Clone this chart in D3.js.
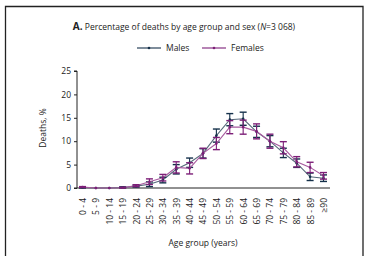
<!DOCTYPE html>
<html>
<head>
<meta charset="utf-8">
<script src="https://cdn.jsdelivr.net/npm/d3@7"></script>
<style>
  body { margin: 0; background: #fff; }
  text { font-family: "Open Sans", "Noto Sans", sans-serif; fill: #222; }
</style>
</head>
<body>
<script>
const w = 368;
const h = 256;

const ageGroups = ["0 - 4", "5 - 9", "10 - 14", "15 - 19", "20 - 24", "25 - 29", "30 - 34", "35 - 39",
  "40 - 44", "45 - 49", "50 - 54", "55 - 59", "60 - 64", "65 - 69", "70 - 74", "75 - 79",
  "80 - 84", "85 - 89", "\u226590"];
const males = [0.1, 0, 0, 0.1, 0.4, 0.8, 1.7, 4.0, 5.4, 7.4, 11.2, 14.6, 14.8, 12.0, 10.0, 7.5, 5.3, 2.4, 2.1];
const malesErr = [0.1, 0, 0, 0.15, 0.2, 0.5, 0.6, 1.0, 1.0, 1.0, 1.4, 1.3, 1.4, 1.2, 1.2, 1.0, 0.9, 0.8, 0.7];
const females = [0.2, 0, 0, 0.05, 0.5, 1.35, 2.2, 4.4, 4.2, 7.4, 9.5, 13.0, 13.0, 12.1, 10.0, 8.6, 5.6, 4.4, 2.6];
const femalesErr = [0.1, 0, 0, 0.1, 0.2, 0.6, 0.7, 1.2, 1.2, 1.1, 1.3, 1.4, 1.5, 1.6, 1.5, 1.3, 1.1, 1.1, 0.7];
const yTicks = [0, 5, 10, 15, 20, 25];

const svg = d3.select("body").append("svg")
  .attr("width", w)
  .attr("height", h);

// frame
svg.append("path")
  .attr("d", "M5.5,260 V6.5 H363 V260")
  .attr("fill", "none")
  .attr("stroke", "#222")
  .attr("stroke-width", 1.3);

// title
const title = svg.append("text")
  .attr("x", 184)
  .attr("y", 30)
  .attr("text-anchor", "middle")
  .style("font-size", "8.5px");
title.append("tspan").style("font-weight", "bold").style("font-size", "10px").text("A.");
title.append("tspan").text(" Percentage of deaths by age group and sex (");
title.append("tspan").style("font-style", "italic").text("N");
title.append("tspan").text("=3 068)");

const x = d3.scalePoint()
  .domain(ageGroups)
  .range([82.5, 323.5]);

const y = d3.scaleLinear()
  .domain([0, 25])
  .range([188, 71]);

// y axis
const yAxis = svg.append("g")
  .attr("transform", "translate(77,0)")
  .call(d3.axisLeft(y).tickValues(yTicks).tickSize(3).tickPadding(3));
yAxis.selectAll("text").style("font-size", "8.5px");
yAxis.selectAll("line, path").attr("stroke", "#222");
yAxis.select(".domain").attr("d", "M-3," + y(25) + "H0V" + y(0) + "H-3");

// x axis
const xAxis = svg.append("g")
  .attr("transform", "translate(0,188)")
  .call(d3.axisBottom(x).tickSize(0).tickPadding(0));
xAxis.select(".domain").attr("d", "M77,0H330").attr("stroke", "#222");
xAxis.selectAll("text")
  .style("font-size", "8.5px")
  .attr("text-anchor", "end")
  .attr("dy", "0.35em")
  .attr("transform", "translate(0,10) rotate(-90)")
  .attr("y", 0)
  .attr("x", 0);

svg.append("text")
  .attr("transform", "translate(46,128) rotate(-90)")
  .attr("text-anchor", "middle")
  .style("font-size", "8.5px")
  .text("Deaths, %");

svg.append("text")
  .attr("x", 203)
  .attr("y", 246)
  .attr("text-anchor", "middle")
  .style("font-size", "8.5px")
  .text("Age group (years)");

const series = [
  { name: "Males", values: males, err: malesErr, dark: "#14304a", line: "#56697a" },
  { name: "Females", values: females, err: femalesErr, dark: "#7d1f78", line: "#a75a9f" }
];

const line = d3.line()
  .x((d, i) => x(ageGroups[i]))
  .y(d => y(d));

series.forEach(s => {
  const g = svg.append("g");
  g.append("path")
    .datum(s.values)
    .attr("d", line)
    .attr("fill", "none")
    .attr("stroke", s.line)
    .attr("stroke-width", 1.1);

  const eb = g.selectAll(".eb")
    .data(s.values.map((v, i) => ({ v: v, e: s.err[i], c: ageGroups[i] })).filter(d => d.e > 0.05))
    .enter().append("g");
  eb.append("line")
    .attr("x1", d => x(d.c)).attr("x2", d => x(d.c))
    .attr("y1", d => y(d.v + d.e)).attr("y2", d => y(Math.max(0, d.v - d.e)))
    .attr("stroke", s.dark).attr("stroke-width", 1.1);
  eb.append("line")
    .attr("x1", d => x(d.c) - 3.5).attr("x2", d => x(d.c) + 3.5)
    .attr("y1", d => y(d.v + d.e)).attr("y2", d => y(d.v + d.e))
    .attr("stroke", s.dark).attr("stroke-width", 1.4);
  eb.append("line")
    .attr("x1", d => x(d.c) - 3.5).attr("x2", d => x(d.c) + 3.5)
    .attr("y1", d => y(Math.max(0, d.v - d.e))).attr("y2", d => y(Math.max(0, d.v - d.e)))
    .attr("stroke", s.dark).attr("stroke-width", 1.4);

  g.selectAll("circle")
    .data(s.values)
    .enter().append("circle")
    .attr("cx", (d, i) => x(ageGroups[i]))
    .attr("cy", d => y(d))
    .attr("r", 1.3)
    .attr("fill", s.dark);
});

// legend
const legend = svg.append("g").attr("transform", "translate(0,48)");
const legX = [137, 202];
series.forEach((s, i) => {
  legend.append("line")
    .attr("x1", legX[i]).attr("x2", legX[i] + 24)
    .attr("y1", 0).attr("y2", 0)
    .attr("stroke", s.dark).attr("stroke-width", 1.1);
  legend.append("circle")
    .attr("cx", legX[i] + 12).attr("cy", 0).attr("r", 1.3)
    .attr("fill", s.dark);
  legend.append("text")
    .attr("x", legX[i] + 29)
    .attr("y", 0)
    .attr("dy", "0.35em")
    .style("font-size", "8.5px")
    .text(s.name);
});
</script>
</body>
</html>
